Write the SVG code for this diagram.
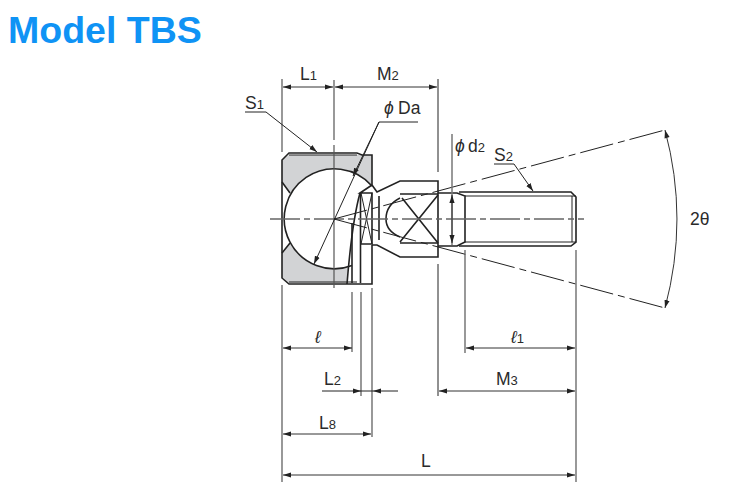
<svg xmlns="http://www.w3.org/2000/svg" width="740" height="497" viewBox="0 0 740 497">
<style>
text{font-family:"Liberation Sans",Arial,sans-serif;fill:#2a2a2a;font-size:17.5px}
.sub{font-size:13px}
.o{fill:none;stroke:#222;stroke-width:1.6}
.t{fill:none;stroke:#222;stroke-width:1}
.g{fill:none;stroke:#777;stroke-width:1.5}
.ext{fill:none;stroke:#555;stroke-width:1.2}
.cl{fill:none;stroke:#666;stroke-width:1.3;stroke-dasharray:30 4 6 4}
.dd{fill:none;stroke:#222;stroke-width:1;stroke-dasharray:34 5 7 5}
.d{fill:none;stroke:#333;stroke-width:1;marker-start:url(#as);marker-end:url(#ae)}
</style>
<defs>
<marker id="ae" markerUnits="userSpaceOnUse" markerWidth="9" markerHeight="6" refX="8" refY="3" orient="auto"><path d="M0 0.4L8 3L0 5.6z" fill="#222"/></marker>
<marker id="as" markerUnits="userSpaceOnUse" markerWidth="9" markerHeight="6" refX="0" refY="3" orient="auto"><path d="M8 0.4L0 3L8 5.6z" fill="#222"/></marker>
</defs>
<text x="8" y="43" style="font-size:37.5px;font-weight:bold;fill:#0f93f5">Model TBS</text>

<g id="body">
<path d="M372 186A50 50 0 0 0 290 194L282 182V160L289 155H372z" fill="#d2d3d5"/>
<path d="M348 266.500A50 50 0 0 1 290 243L282 253V277L289 283H348z" fill="#d2d3d5"/>
<path d="M372 186V155H362L357 153H289L282 160V278L289 284H372V245" class="o"/>
<path d="M289 155H357M289 282H357" class="t"/>
<path d="M282 182L290 193M282 253L290 243" class="o"/>
<path d="M372 186A50 50 0 1 0 352 265.500" class="o"/>
</g>

<g id="cage">
<path d="M372 185L360 193H372V244H360.500M360.500 193V283" class="o"/>
<path d="M361 193L372 244M372 193L361 244" class="t"/>
<path d="M360 193Q352 222 347 284" class="o"/>
<path d="M352 223V283" class="o"/>
<path d="M379 196V240" class="o"/>
</g>

<g id="neck-head">
<path d="M372 185L377 192L400 181H438V257H400L377 245H372" class="o"/>
<path d="M400 194H438M400 243H438" class="o"/>
<path d="M402 198L438 243M438 195L400 242" class="o"/>
<path d="M400 198Q386 205 386 219Q386 231 400 237" class="o"/>
</g>

<g id="thread">
<path d="M438 193H457L465 196V242L457 246H438" class="o"/>
<path d="M459 192H571L576 197V242L571 246H459" class="o"/>
<path d="M465 196H576M465 242H576M572 196V242" class="t"/>
</g>

<g id="connectors">
<path d="M270 219H584" class="cl"/>
<path d="M334 80V140M334 145V288" class="ext"/>
<path d="M334 219L665 130M334 219L665 308" class="dd"/>
<path d="M282 79V152M282 285V482M576 250V482M465 250V353M372 288V437M361 292V396M352 292V352" class="ext"/>
<path d="M438 79V172M438 264V396" class="t"/>
<path d="M452 134V245" class="g"/>
<path d="M452 195V243" class="d"/>
<path d="M283 87H333" class="d"/>
<path d="M335 87H437" class="d"/>
<path d="M283 348H352" class="d"/>
<path d="M466 348H575" class="d"/>
<path d="M439 391H575" class="d"/>
<path d="M283 434H371" class="d"/>
<path d="M283 475H575" class="d"/>
<path d="M322 391H361" class="t" marker-end="url(#ae)"/>
<path d="M398 391H373" class="t" marker-end="url(#ae)"/>
<path d="M361 391H373" class="t"/>
<path d="M245 112H266L317 152" class="t" marker-end="url(#ae)"/>
<path d="M418 122H379L314 264" class="t" marker-end="url(#ae)"/>
<path d="M379 122L353 176" class="t" marker-end="url(#ae)"/>
<path d="M494 164H514L533 191" class="t" marker-end="url(#ae)"/>
<path d="M665 130A343 343 0 0 1 665 308" class="d"/>
</g>

<g id="labels">
<text x="300" y="80">L<tspan class="sub">1</tspan></text>
<text x="377" y="80">M<tspan class="sub">2</tspan></text>
<text x="245" y="109">S<tspan class="sub">1</tspan></text>
<text x="384" y="114" style="font-style:italic">ϕ</text><text x="398" y="114">Da</text>
<text x="455" y="152" style="font-style:italic">ϕ</text><text x="468" y="152">d<tspan class="sub">2</tspan></text>
<text x="494" y="161">S<tspan class="sub">2</tspan></text>
<text x="690" y="225">2θ</text>
<text x="315" y="343" style="font-style:italic">ℓ</text>
<text x="511" y="343" style="font-style:italic">ℓ<tspan class="sub" style="font-style:normal">1</tspan></text>
<text x="324" y="385">L<tspan class="sub">2</tspan></text>
<text x="496" y="385">M<tspan class="sub">3</tspan></text>
<text x="319" y="429">L<tspan class="sub">8</tspan></text>
<text x="421" y="467">L</text>
</g>
</svg>
